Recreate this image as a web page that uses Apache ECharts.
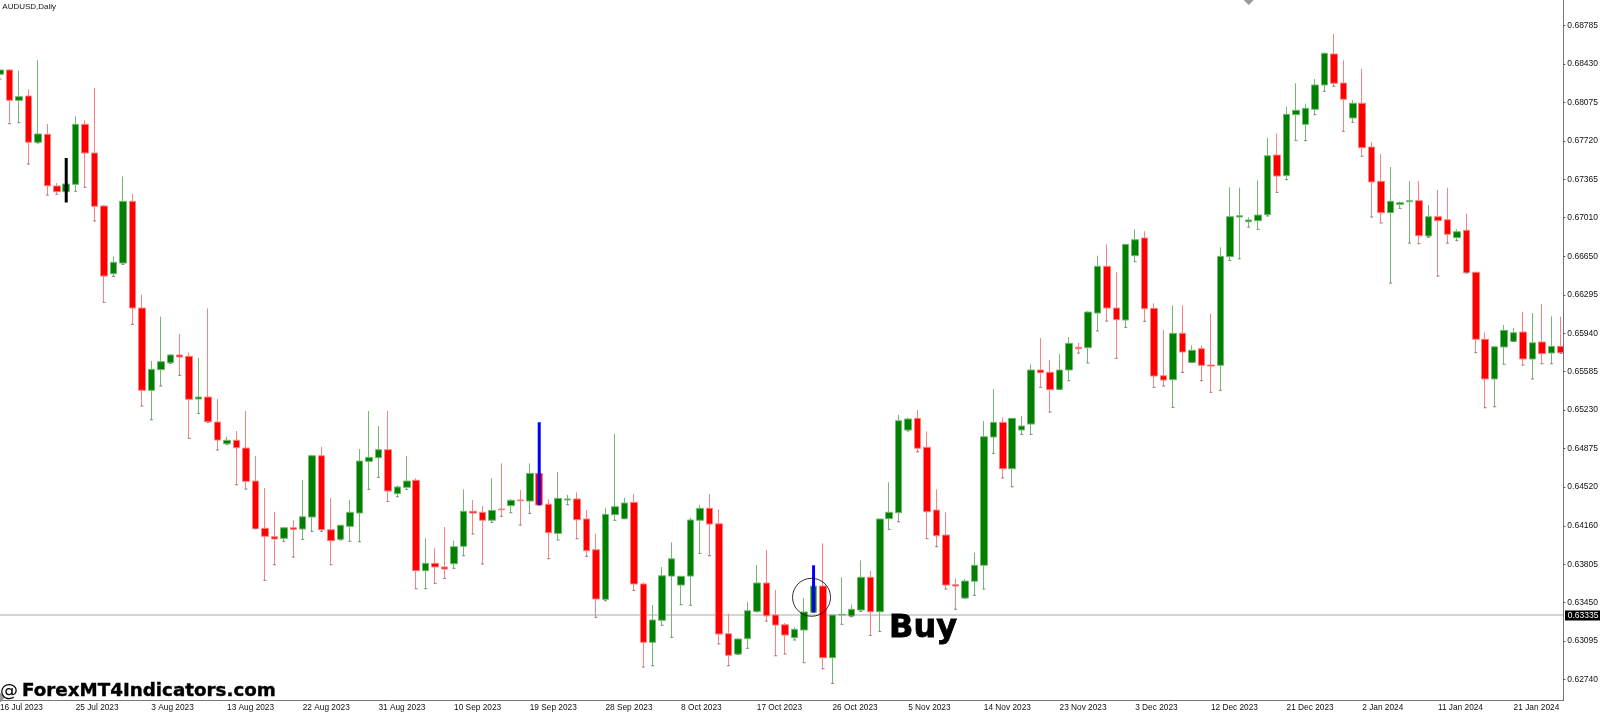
<!DOCTYPE html>
<html>
<head>
<meta charset="utf-8">
<title>AUDUSD,Daily</title>
<script src="https://cdn.jsdelivr.net/npm/echarts@6/dist/echarts.min.js"></script>
<style>
html,body{margin:0;padding:0;background:#fff}
#chart{width:1600px;height:713px}
</style>
</head>
<body>
<div id="chart"></div>
<script>
// one label every 8 bars
const tickLabels = ['16 Jul 2023','25 Jul 2023','3 Aug 2023','13 Aug 2023','22 Aug 2023','31 Aug 2023','10 Sep 2023','19 Sep 2023','28 Sep 2023','8 Oct 2023','17 Oct 2023','26 Oct 2023','5 Nov 2023','14 Nov 2023','23 Nov 2023','3 Dec 2023','12 Dec 2023','21 Dec 2023','2 Jan 2024','11 Jan 2024','21 Jan 2024'];
const priceTicks = [0.68785,0.68430,0.68075,0.67720,0.67365,0.67010,0.66650,0.66295,0.65940,0.65585,0.65230,0.64875,0.64520,0.64160,0.63805,0.63450,0.63095,0.62740];

const opens = [
0.68336,0.68376,0.68095,0.68135,0.67707,0.67781,0.67303,0.67250,0.67318,0.67873,
0.67608,0.67118,0.66492,0.66590,0.67161,0.66174,0.65413,0.65604,0.65668,0.65740,
0.65728,0.65333,0.65351,0.65120,0.64919,0.64951,0.64879,0.64574,0.64137,0.64059,
0.64044,0.64142,0.64130,0.64241,0.64808,0.64124,0.64035,0.64155,0.64278,0.64756,
0.64790,0.64864,0.64457,0.64516,0.64581,0.63745,0.63813,0.63779,0.63809,0.63970,
0.64294,0.64285,0.64211,0.64315,0.64346,0.64399,0.64389,0.64645,0.64359,0.64090,
0.64399,0.64408,0.64223,0.63939,0.63480,0.64263,0.64226,0.64377,0.63622,0.63082,
0.63286,0.63695,0.63612,0.63695,0.64211,0.64322,0.64179,0.63162,0.62974,0.63116,
0.63369,0.63631,0.63335,0.63245,0.63125,0.63196,0.63360,0.63603,0.62940,0.63335,
0.63326,0.63381,0.63684,0.63365,0.64226,0.64281,0.65046,0.65154,0.64886,0.64306,
0.64075,0.63615,0.63492,0.63647,0.63795,0.64981,0.65117,0.64688,0.65046,0.65101,
0.65601,0.65580,0.65422,0.65601,0.65811,0.65807,0.66128,0.66560,0.66174,0.66063,
0.66658,0.66822,0.66171,0.65548,0.65511,0.65940,0.65672,0.65798,0.65647,0.65644,
0.66649,0.67016,0.66972,0.66982,0.67037,0.67589,0.67398,0.67962,0.67873,0.68012,
0.68237,0.68524,0.68255,0.67932,0.68068,0.67663,0.67346,0.67056,0.67133,0.67158,
0.67167,0.66840,0.67019,0.66991,0.66825,0.66893,0.66505,0.65885,0.65518,0.65814,
0.65866,0.65952,0.65703,0.65860,0.65758,0.65820];

const closes = [
0.68376,0.68095,0.68129,0.67707,0.67784,0.67305,0.67250,0.67321,0.67873,0.67608,
0.67115,0.66470,0.66597,0.67161,0.66174,0.65413,0.65607,0.65678,0.65740,0.65721,
0.65330,0.65351,0.65123,0.64953,0.64951,0.64882,0.64571,0.64133,0.64063,0.64038,
0.64142,0.64127,0.64244,0.64808,0.64124,0.64022,0.64165,0.64285,0.64759,0.64793,
0.64864,0.64482,0.64519,0.64574,0.63745,0.63813,0.63779,0.63760,0.63967,0.64294,
0.64278,0.64211,0.64303,0.64309,0.64396,0.64392,0.64645,0.64352,0.64096,0.64414,
0.64408,0.64216,0.63930,0.63483,0.64266,0.64337,0.64371,0.63622,0.63082,0.63289,
0.63698,0.63855,0.63693,0.64214,0.64322,0.64176,0.63159,0.62962,0.63113,0.63375,
0.63631,0.63328,0.63242,0.63150,0.63203,0.63363,0.63603,0.62940,0.63335,0.63341,
0.63388,0.63684,0.63365,0.64223,0.64285,0.65132,0.65148,0.64877,0.64290,0.64068,
0.63612,0.63603,0.63649,0.63795,0.64984,0.65117,0.64688,0.65154,0.65083,0.65601,
0.65576,0.65419,0.65601,0.65848,0.65798,0.66137,0.66560,0.66174,0.66066,0.66763,
0.66806,0.66168,0.65545,0.65508,0.65940,0.65767,0.65783,0.65644,0.65638,0.66652,
0.67019,0.67028,0.66988,0.67034,0.67583,0.67395,0.67966,0.68003,0.68021,0.68237,
0.68530,0.68253,0.68105,0.68068,0.67657,0.67340,0.67056,0.67161,0.67148,0.67167,
0.66843,0.67019,0.66982,0.66856,0.66880,0.66501,0.65885,0.65518,0.65816,0.65968,
0.65946,0.65703,0.65853,0.65752,0.65820,0.65761];

const lows = [
0.68292,0.67879,0.67888,0.67506,0.67700,0.67219,0.67226,0.67250,0.67254,0.67291,
0.66979,0.66227,0.66467,0.66578,0.66024,0.65268,0.65141,0.65453,0.65663,0.65552,
0.64969,0.65200,0.65117,0.64861,0.64914,0.64540,0.64500,0.64133,0.63656,0.63800,
0.64017,0.63871,0.64035,0.64109,0.64109,0.63800,0.64029,0.64017,0.64013,0.64497,
0.64608,0.64386,0.64429,0.64497,0.63578,0.63578,0.63628,0.63674,0.63767,0.63883,
0.64084,0.63807,0.64192,0.64248,0.64281,0.64167,0.64275,0.64352,0.63856,0.64029,
0.64355,0.64041,0.63878,0.63314,0.63467,0.64211,0.64226,0.63563,0.62854,0.62866,
0.63240,0.63129,0.63430,0.63425,0.63905,0.63883,0.63069,0.62866,0.62971,0.63027,
0.63365,0.63279,0.62958,0.62974,0.63104,0.62894,0.63360,0.62838,0.62703,0.63249,
0.63319,0.63369,0.63147,0.63184,0.64127,0.64198,0.65037,0.64845,0.64041,0.63967,
0.63575,0.63388,0.63492,0.63517,0.63575,0.64830,0.64602,0.64521,0.65006,0.65006,
0.65441,0.65212,0.65422,0.65502,0.65758,0.65666,0.65962,0.66054,0.65709,0.65996,
0.66602,0.66051,0.65441,0.65453,0.65256,0.65580,0.65672,0.65502,0.65395,0.65413,
0.66615,0.66630,0.66923,0.66902,0.67025,0.67244,0.67361,0.67725,0.67722,0.67962,
0.68179,0.68225,0.67809,0.67892,0.67578,0.67016,0.66961,0.66405,0.67096,0.66775,
0.66769,0.66828,0.66470,0.66775,0.66797,0.66498,0.65761,0.65252,0.65261,0.65654,
0.65866,0.65647,0.65518,0.65659,0.65659,0.65755];

const highs = [
0.68397,0.68380,0.68369,0.68197,0.68468,0.67876,0.67330,0.67321,0.67947,0.67910,
0.68209,0.67124,0.66652,0.67392,0.67231,0.66297,0.65684,0.66094,0.65749,0.65934,
0.65761,0.65712,0.66171,0.65333,0.64984,0.65037,0.65222,0.64805,0.64510,0.64290,
0.64146,0.64214,0.64583,0.64817,0.64890,0.64417,0.64165,0.64399,0.64870,0.65222,
0.65083,0.65222,0.64534,0.64805,0.64599,0.64044,0.63952,0.64149,0.64022,0.64497,
0.64399,0.64343,0.64599,0.64738,0.64408,0.64491,0.64738,0.64645,0.64405,0.64657,
0.64447,0.64470,0.64306,0.64090,0.64327,0.65012,0.64420,0.64454,0.63637,0.63427,
0.63779,0.64007,0.63693,0.64235,0.64355,0.64454,0.64312,0.63347,0.63119,0.63455,
0.63797,0.63936,0.63566,0.63261,0.63221,0.63492,0.63603,0.63998,0.63335,0.63684,
0.63430,0.63841,0.63742,0.64223,0.64562,0.65185,0.65163,0.65231,0.65034,0.64497,
0.64285,0.63671,0.63668,0.63911,0.65129,0.65425,0.65163,0.65154,0.65175,0.65654,
0.65897,0.65693,0.65746,0.65906,0.65853,0.66144,0.66658,0.66763,0.66505,0.66763,
0.66902,0.66884,0.66218,0.65971,0.66199,0.66199,0.65829,0.65829,0.66122,0.66736,
0.67291,0.67287,0.67013,0.67355,0.67747,0.67790,0.68036,0.68253,0.68064,0.68292,
0.68539,0.68709,0.68465,0.68098,0.68388,0.67707,0.67599,0.67478,0.67161,0.67349,
0.67349,0.67127,0.67266,0.67287,0.66902,0.67047,0.66507,0.65950,0.65816,0.66017,
0.65989,0.66140,0.66128,0.66211,0.66097,0.66094];

// indicator bars drawn over some candles: bar index, top, bottom
const signalBars = [[7,0.67562,0.67150],[57,0.65118,0.64352],[86,0.63795,0.63360]];
const signalColors = ['#000000','#0000ff','#0000ff'];
const currentPrice = [0.63335];
const buyCircle = [[86,0.63499]];
const diamonds = [[132,0.69023],[0,0.62572]];

const categories = opens.map((_,i)=> i%8===0 ? tickLabels[i/8] : '');
const candles = opens.map((o,i)=>[o,closes[i],lows[i],highs[i]]);
const lowMarks = lows.map((v,i)=>[i,v]);

const labelFont = 'Liberation Sans';
const barStep = 9.46;

const chart = echarts.init(document.getElementById('chart'));
chart.setOption({
  animation:false,
  backgroundColor:'#ffffff',
  grid:{left:-barStep/2,top:0,width:barStep*opens.length,height:700,outerBoundsMode:'none'},
  xAxis:{
    type:'category',
    data:categories,
    boundaryGap:true,
    axisLine:{lineStyle:{color:'#777777',width:1}},
    axisTick:{alignWithLabel:true,interval:7,length:2,lineStyle:{color:'#555555'}},
    axisLabel:{interval:7,align:'left',margin:3.5,fontFamily:labelFont,fontSize:8.3,color:'#111111',hideOverlap:false},
    splitLine:{show:false}
  },
  yAxis:{
    type:'value',
    position:'right',
    offset:-2.3,
    z:6,
    min:0.62549,
    max:0.69023,
    scale:true,
    axisLine:{show:true,lineStyle:{color:'#777777',width:1}},
    axisTick:{show:true,length:2,customValues:priceTicks,lineStyle:{color:'#555555'}},
    axisLabel:{customValues:priceTicks,margin:4,padding:[4,0,0,0],fontFamily:labelFont,fontSize:8.5,color:'#111111',formatter:v=>v.toFixed(5)},
    splitLine:{show:false}
  },
  series:[
    {
      // current price line, behind the candles
      type:'custom',
      z:1,
      clip:true,
      silent:true,
      data:currentPrice.map(v=>[0,v]),
      encode:{x:0,y:1},
      renderItem:(params,api)=>{
        const y = api.coord([0,api.value(1)])[1];
        return {type:'line',shape:{x1:params.coordSys.x,y1:y,x2:params.coordSys.x+params.coordSys.width,y2:y},
          style:{stroke:'#c6c6c6',lineWidth:1.5}};
      }
    },
    {
      type:'candlestick',
      z:2,
      data:candles,
      barWidth:7,
      itemStyle:{color:'#008000',color0:'#ff0000',borderColor:'#74b874',borderColor0:'#ff8080',borderWidth:1}
    },
    {
      type:'scatter',
      z:2,
      data:lowMarks,
      symbol:'rect',
      symbolSize:[3,1],
      itemStyle:{color:'#666666'},
      silent:true
    },
    {
      type:'custom',
      z:3,
      clip:false,
      data:signalBars,
      encode:{x:0,y:[1,2]},
      renderItem:(params,api)=>{
        const top = api.coord([api.value(0),api.value(1)]);
        const bottom = api.coord([api.value(0),api.value(2)]);
        return {type:'line',shape:{x1:top[0],y1:top[1],x2:bottom[0],y2:bottom[1]},
          style:{stroke:signalColors[params.dataIndex],lineWidth:3}};
      }
    },
    {
      type:'scatter',
      z:4,
      data:buyCircle,
      symbol:'circle',
      symbolSize:38,
      symbolOffset:[-2,0],
      itemStyle:{color:'rgba(0,0,0,0)',borderColor:'#000000',borderWidth:1},
      silent:true
    },
    {
      type:'scatter',
      z:4,
      clip:false,
      data:diamonds,
      symbol:'diamond',
      symbolSize:[10,10],
      itemStyle:{color:'#808080'},
      silent:true
    }
  ],
  graphic:[
    // hides whatever the last candle pushes past the price scale
    {type:'rect',z:5,silent:true,shape:{x:1564,y:0,width:36,height:713},style:{fill:'#ffffff'}},
    {type:'rect',z:7,silent:true,shape:{x:1565,y:610.5,width:35,height:10},style:{fill:'#000000'}},
    {type:'text',z:8,silent:true,style:{x:1567.7,y:615.6,text:'0.63335',fill:'#ffffff',font:'8.5px "Liberation Sans"',verticalAlign:'middle'}},
    {type:'text',z:8,silent:true,style:{x:2.3,y:7,text:'AUDUSD,Daily',fill:'#111111',font:'8px "Liberation Sans"',verticalAlign:'middle'}},
    {type:'text',z:8,silent:true,style:{x:889,y:629,text:'Buy',fill:'#000000',stroke:'#000000',lineWidth:0.8,font:'bold 32px "DejaVu Sans"',verticalAlign:'middle'}},
    {type:'text',z:8,silent:true,style:{x:0,y:691.5,text:'@',fill:'#000000',font:'18px "DejaVu Sans"',verticalAlign:'middle'}},
    {type:'text',z:8,silent:true,style:{x:22,y:691.5,text:'ForexMT4Indicators.com',fill:'#000000',stroke:'#000000',lineWidth:0.4,font:'bold 18.3px "DejaVu Sans"',verticalAlign:'middle'}}
  ]
});
</script>
</body>
</html>
